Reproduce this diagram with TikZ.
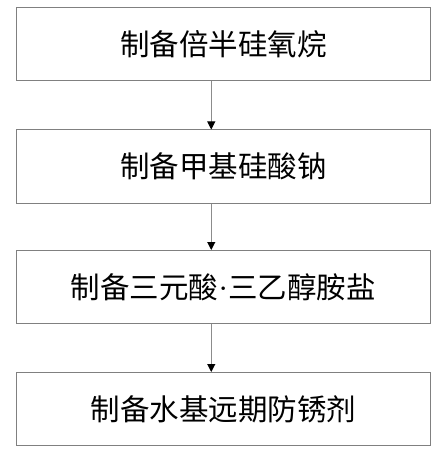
\documentclass[tikz,border=0pt]{standalone}
\usepackage{fontspec}
\newfontfamily\cjk{Noto Sans CJK SC}
\newfontfamily\latn{Liberation Serif}
\usetikzlibrary{arrows.meta}
\begin{document}
\begin{tikzpicture}[x=1pt,y=1pt,
  stepbox/.style={draw=black!50,line width=1pt,minimum width=413.5pt,minimum height=73pt,inner sep=0pt,font=\cjk\fontsize{29.5pt}{31pt}\selectfont,anchor=north west},
  conn/.style={draw=black!45,line width=1pt,-{Triangle[width=8pt,length=8pt,color=black]}}]
\useasboundingbox (0,0) rectangle (444,-454);
\node[stepbox] (a) at (16,-7) {制备倍半硅氧烷};
\node[stepbox] (b) at (16,-129.5) {制备甲基硅酸钠};
\node[stepbox] (c) at (16,-250) {制备三元酸{\latn ·}三乙醇胺盐};
\node[stepbox] (d) at (16,-372) {制备水基远期防锈剂};
\draw[conn] ([xshift=-12pt]a.south) -- ([xshift=-12pt]b.north);
\draw[conn] ([xshift=-12pt]b.south) -- ([xshift=-12pt]c.north);
\draw[conn] ([xshift=-12pt]c.south) -- ([xshift=-12pt]d.north);
\end{tikzpicture}
\end{document}
